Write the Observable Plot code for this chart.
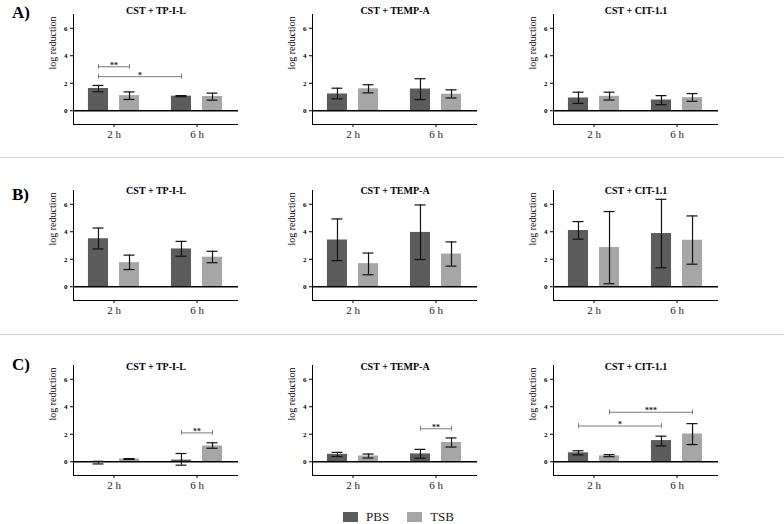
<!DOCTYPE html>
<html><head><meta charset="utf-8">
<script src="https://cdn.jsdelivr.net/npm/d3@7"></script>
<script src="https://cdn.jsdelivr.net/npm/@observablehq/plot@0.6"></script>
<style>
body{margin:0;background:#fff;}
#chart{position:relative;width:784px;height:524px;font-family:'Liberation Serif',serif;color:#000;overflow:hidden;}
#chart svg, #chart svg text, #chart svg g{font-family:'Liberation Serif',serif !important;}
.panel{position:absolute;}
.rowlab{position:absolute;font-weight:bold;font-size:17px;line-height:17px;}
.sep{position:absolute;left:0;width:784px;height:1px;background:#d2d2d2;}
#legend{position:absolute;top:508px;left:343px;display:flex;align-items:center;font-size:13px;line-height:17px;color:#222;}
.sw{width:15px;height:10px;display:inline-block;margin-right:8px;}
.lt{margin-right:18px;}
</style></head><body><div id="chart"></div>
<script>
// ---- categories / labels ----
const times = ["2 h", "6 h"];
const media = ["PBS", "TSB"];
const panelTitles = ["CST + TP-I-L", "CST + TEMP-A", "CST + CIT-1.1"];
const rowLabels = ["A)", "B)", "C)"];
const yTicks = [0, 2, 4, 6];

// ---- values: per panel, order [PBS 2 h, TSB 2 h, PBS 6 h, TSB 6 h] ----
const meanA = [[1.62, 1.10, 1.06, 1.04], [1.22, 1.60, 1.58, 1.20], [0.93, 1.05, 0.78, 0.95]];
const lowA  = [[1.38, 0.82, 1.02, 0.77], [0.86, 1.30, 0.81, 0.93], [0.54, 0.78, 0.44, 0.69]];
const highA = [[1.84, 1.37, 1.10, 1.28], [1.64, 1.89, 2.33, 1.52], [1.35, 1.35, 1.10, 1.25]];

const meanB = [[3.49, 1.75, 2.75, 2.15], [3.40, 1.68, 3.95, 2.38], [4.09, 2.85, 3.87, 3.38]];
const lowB  = [[2.75, 1.25, 2.22, 1.75], [1.90, 0.87, 1.98, 1.50], [3.46, 0.22, 1.38, 1.64]];
const highB = [[4.27, 2.30, 3.30, 2.58], [4.93, 2.45, 5.95, 3.26], [4.74, 5.47, 6.36, 5.15]];

const meanC = [[-0.05, 0.20, 0.12, 1.15], [0.54, 0.42, 0.57, 1.40], [0.65, 0.43, 1.54, 2.02]];
const lowC  = [[-0.16, 0.17, -0.25, 0.98], [0.38, 0.27, 0.26, 1.07], [0.50, 0.37, 1.15, 1.25]];
const highC = [[0.03, 0.23, 0.60, 1.38], [0.68, 0.56, 0.90, 1.73], [0.80, 0.52, 1.86, 2.77]];

// ---- significance brackets ----
const sigRow    = [0, 0, 2, 2, 2, 2];
const sigPanel  = [0, 0, 0, 1, 2, 2];
const sigFrom   = [["2 h","PBS"], ["2 h","PBS"], ["6 h","PBS"], ["6 h","PBS"], ["2 h","TSB"], ["2 h","PBS"]];
const sigTo     = [["2 h","TSB"], ["6 h","PBS"], ["6 h","TSB"], ["6 h","TSB"], ["6 h","TSB"], ["6 h","PBS"]];
const sigY      = [3.2, 2.48, 2.1, 2.4, 3.6, 2.6];
const sigLabel  = ["**", "*", "**", "**", "***", "*"];

// ---- styling / layout (not data) ----
const colors = ["#5c5c5c", "#a6a6a6"];
const SUB = 0.187, BAR = 0.121, CAP = 0.066;
const X_DOMAIN = [-0.488, 1.5], Y_DOMAIN = [-1, 7];
const colLeft = [0, 239, 480];
const rowTop = [0, 176, 351];
const titleDy = [-3.5, 0, 1];
const rowLabelTop = [4, 186, 356];

const means = [meanA, meanB, meanC], lows = [lowA, lowB, lowC], highs = [highA, highB, highC];
const xOf = (t, m) => times.indexOf(t) + (m === "PBS" ? -SUB : SUB);

const chart = document.getElementById("chart");

for (let r = 0; r < 3; r++) {
  for (let p = 0; p < 3; p++) {
    const recs = [];
    times.forEach((t, ti) => media.forEach((m, mi) => {
      const k = ti * 2 + mi;
      recs.push({time: t, medium: m, mean: means[r][p][k], low: lows[r][p][k], high: highs[r][p][k]});
    }));
    const brk = [];
    sigRow.forEach((sr, i) => {
      if (sr === r && sigPanel[i] === p) brk.push({a: xOf(...sigFrom[i]), b: xOf(...sigTo[i]), y: sigY[i], label: sigLabel[i]});
    });
    const xc = d => xOf(d.time, d.medium);
    const svg = Plot.plot({
      width: 245, height: 150,
      marginLeft: 73, marginRight: 7, marginTop: 14, marginBottom: 26,
      style: {fontFamily: "'Liberation Serif', serif", background: "transparent", overflow: "visible"},
      x: {domain: X_DOMAIN},
      y: {domain: Y_DOMAIN},
      color: {domain: media, range: colors},
      marks: [
        Plot.rectY(recs, {x1: d => xc(d) - BAR, x2: d => xc(d) + BAR, y1: 0, y2: "mean", fill: "medium"}),
        Plot.ruleY([0], {stroke: "#000", strokeWidth: 1.3}),
        Plot.ruleX(recs, {x: xc, y1: "low", y2: "high", stroke: "#111", strokeWidth: 1.2}),
        Plot.ruleY(recs, {y: "low", x1: d => xc(d) - CAP, x2: d => xc(d) + CAP, stroke: "#111", strokeWidth: 1.2}),
        Plot.ruleY(recs, {y: "high", x1: d => xc(d) - CAP, x2: d => xc(d) + CAP, stroke: "#111", strokeWidth: 1.2}),
        Plot.ruleY(brk, {y: "y", x1: "a", x2: "b", stroke: "#7a7a7a", strokeWidth: 1}),
        Plot.ruleX(brk, {x: "a", y1: d => d.y - 0.17, y2: d => d.y + 0.17, stroke: "#7a7a7a", strokeWidth: 1}),
        Plot.ruleX(brk, {x: "b", y1: d => d.y - 0.17, y2: d => d.y + 0.17, stroke: "#7a7a7a", strokeWidth: 1}),
        Plot.text(brk, {x: d => (d.a + d.b) / 2, y: "y", text: "label", lineAnchor: "bottom", dy: 1, fontSize: 8, fontWeight: "bold", fill: "#222"}),
        Plot.ruleY([Y_DOMAIN[0]], {stroke: "#000", strokeWidth: 1}),
        Plot.ruleX([X_DOMAIN[0]], {stroke: "#000", strokeWidth: 1}),
        Plot.axisY({ticks: yTicks, tickSize: 3, tickPadding: 3, fontSize: 7, fontWeight: "bold", label: null}),
        Plot.axisX({ticks: [0, 1], tickFormat: i => times[i], tickSize: 3, tickPadding: 3, fontSize: 11, fontWeight: "normal", fill: "#222", label: null}),
        Plot.text([panelTitles[p]], {text: d => d, frameAnchor: "top", lineAnchor: "middle", dy: titleDy[r], fontSize: 10, fontWeight: "bold"}),
        Plot.text(["log reduction"], {text: d => d, frameAnchor: "left", rotate: -90, dx: -21, lineAnchor: "middle", fontSize: 10})
      ]
    });
    svg.classList.add("panel");
    svg.style.left = colLeft[p] + "px";
    svg.style.top = rowTop[r] + "px";
    svg.style.position = "absolute";
    chart.appendChild(svg);
  }
  const lab = document.createElement("div");
  lab.className = "rowlab";
  lab.textContent = rowLabels[r];
  lab.style.left = "12px";
  lab.style.top = rowLabelTop[r] + "px";
  chart.appendChild(lab);
}

[157, 334].forEach(y => {
  const s = document.createElement("div");
  s.className = "sep";
  s.style.top = y + "px";
  chart.appendChild(s);
});

const legend = document.createElement("div");
legend.id = "legend";
media.forEach((m, i) => {
  const sw = document.createElement("span");
  sw.className = "sw";
  sw.style.background = colors[i];
  const tx = document.createElement("span");
  tx.className = "lt";
  tx.textContent = m;
  legend.appendChild(sw);
  legend.appendChild(tx);
});
chart.appendChild(legend);
</script>
</body></html>
